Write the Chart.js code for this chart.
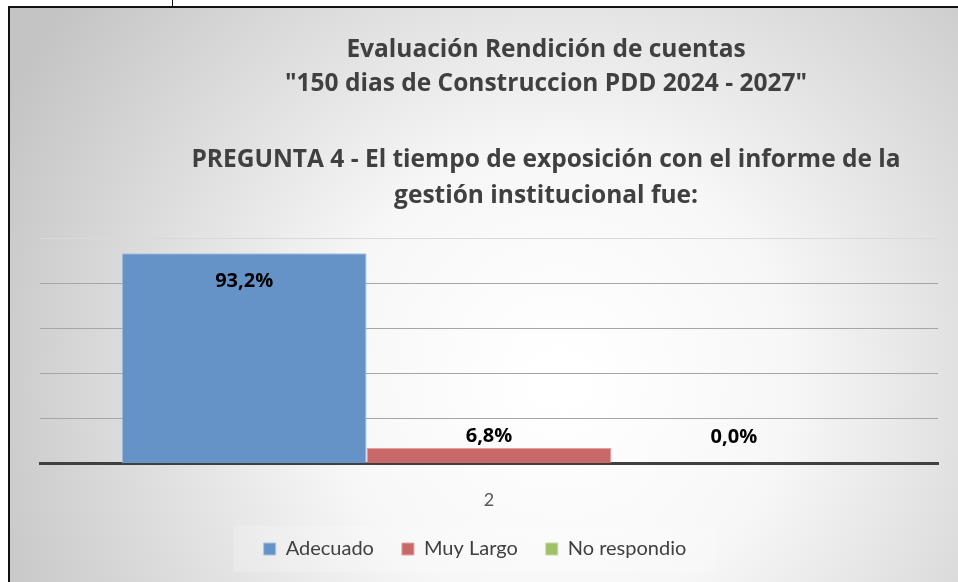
<!DOCTYPE html>
<html lang="es">
<head>
<meta charset="UTF-8">
<title>Pregunta 4</title>
<script src="https://cdn.jsdelivr.net/npm/chart.js"></script>
<style>
  html, body { margin: 0; padding: 0; background: #fff; }
  #wrap { width: 958px; height: 582px; position: relative; }
</style>
</head>
<body>
<div id="wrap"><canvas id="chart" width="958" height="582"></canvas></div>
<script>
// data
const categories = ['2'];
const seriesNames = ['Adecuado', 'Muy Largo', 'No respondio'];
const seriesValues = [93.2, 6.8, 0.0];
const seriesColors = ['#6693c7', '#c96868', '#9fc066'];
const seriesBorders = ['#a8c2e2', '#e4a2a2', '#c4dba0'];
const yTicks = [0, 20, 40, 60, 80, 100];
const titleLines = [
  'Evaluación Rendición de cuentas',
  '"150 dias de Construccion PDD 2024 - 2027"',
  '',
  'PREGUNTA 4 - El tiempo de exposición con el informe de la',
  'gestión institucional fue:'
];

const FONT = 'Lato, "Open Sans", sans-serif';
const TITLE_FONT = '"Open Sans", Lato, sans-serif';

// background panel, frame and titles
const panelPlugin = {
  id: 'panel',
  afterLayout(chart) {
    // the legend in the original sits a bit left of the plot centre
    chart.legend.left -= 14;
    chart.legend.right -= 14;
  },
  beforeDraw(chart) {
    const ctx = chart.ctx;
    const w = chart.width, h = chart.height;
    ctx.save();
    ctx.fillStyle = '#fff';
    ctx.fillRect(0, 0, w, h);
    const g = ctx.createRadialGradient(560, 380, 20, 560, 380, 620);
    g.addColorStop(0, '#ffffff');
    g.addColorStop(0.35, '#f7f7f7');
    g.addColorStop(1, '#c4c4c4');
    ctx.fillStyle = g;
    ctx.fillRect(9, 7, w - 9, h - 7);
    ctx.strokeStyle = '#111';
    ctx.lineWidth = 2;
    ctx.beginPath();
    ctx.moveTo(9, h);
    ctx.lineTo(9, 7);
    ctx.lineTo(w, 7);
    ctx.stroke();
    ctx.beginPath();
    ctx.lineWidth = 1;
    ctx.moveTo(172.5, 0);
    ctx.lineTo(172.5, 6);
    ctx.stroke();

    // faint legend backdrop
    const lg = chart.legend;
    if (lg && lg.legendHitBoxes && lg.legendHitBoxes.length) {
      const boxes = lg.legendHitBoxes;
      const total = boxes.reduce((s, b) => s + b.width, 0) + 28 * (boxes.length - 1);
      const cx = (lg.left + lg.right) / 2;
      const cy = lg.top + lg.options.labels.padding + boxes[0].height / 2;
      ctx.fillStyle = 'rgba(255,255,255,0.2)';
      ctx.fillRect(cx - total / 2 - 30, cy - 23, total + 60, 46);
    }

    ctx.fillStyle = '#404040';
    ctx.textAlign = 'center';
    ctx.textBaseline = 'middle';
    ctx.font = 'bold 24.5px ' + TITLE_FONT;
    const ys = [50, 84, 122, 160, 196];
    titleLines.forEach((t, i) => {
      if (t) ctx.fillText(t, 546, ys[i]);
    });
    ctx.restore();
  }
};

// value labels on the bars
const labelPlugin = {
  id: 'valueLabels',
  afterDatasetsDraw(chart) {
    const ctx = chart.ctx;
    ctx.save();
    ctx.font = 'bold 20px ' + TITLE_FONT;
    ctx.fillStyle = '#000';
    ctx.textAlign = 'center';
    ctx.textBaseline = 'middle';
    chart.data.datasets.forEach((ds, i) => {
      const meta = chart.getDatasetMeta(i);
      meta.data.forEach((bar, j) => {
        const v = ds.data[j];
        const txt = v.toFixed(1).replace('.', ',') + '%';
        const y = v > 50 ? bar.y + 28 : Math.min(bar.y - 12, bar.base - 26);
        ctx.fillText(txt, bar.x, y);
      });
    });
    ctx.restore();
  }
};

new Chart(document.getElementById('chart'), {
  type: 'bar',
  data: {
    labels: categories,
    datasets: seriesNames.map((name, i) => ({
      label: name,
      data: [seriesValues[i]],
      backgroundColor: seriesColors[i],
      borderColor: seriesBorders[i],
      borderWidth: 1,
      barPercentage: 1.0,
      categoryPercentage: 0.818
    }))
  },
  options: {
    responsive: false,
    animation: false,
    devicePixelRatio: 1,
    layout: { padding: { left: 40, right: 20, top: 238, bottom: 13 } },
    plugins: {
      title: { display: false },
      tooltip: { enabled: false },
      legend: {
        position: 'bottom',
        labels: {
          boxWidth: 12,
          boxHeight: 12,
          padding: 28,
          color: '#404040',
          font: { family: FONT, size: 20 }
        }
      }
    },
    scales: {
      x: {
        grid: { display: false, drawTicks: false },
        border: { display: true, color: '#404040', width: 3 },
        ticks: { color: '#595959', padding: 26, font: { family: FONT, size: 18 } },
        afterFit(scale) { scale.height -= 26; }
      },
      y: {
        min: yTicks[0],
        max: yTicks[yTicks.length - 1],
        afterBuildTicks(scale) { scale.ticks = yTicks.map(v => ({ value: v })); },
        ticks: { display: false },
        border: { display: false },
        grid: {
          drawTicks: false,
          lineWidth: 1,
          color: ctx => ctx.tick.value === 0 ? 'rgba(0,0,0,0)' : (ctx.tick.value === 100 ? '#d9d9d9' : '#a6a6a6')
        }
      }
    }
  },
  plugins: [panelPlugin, labelPlugin]
});
</script>
</body>
</html>
